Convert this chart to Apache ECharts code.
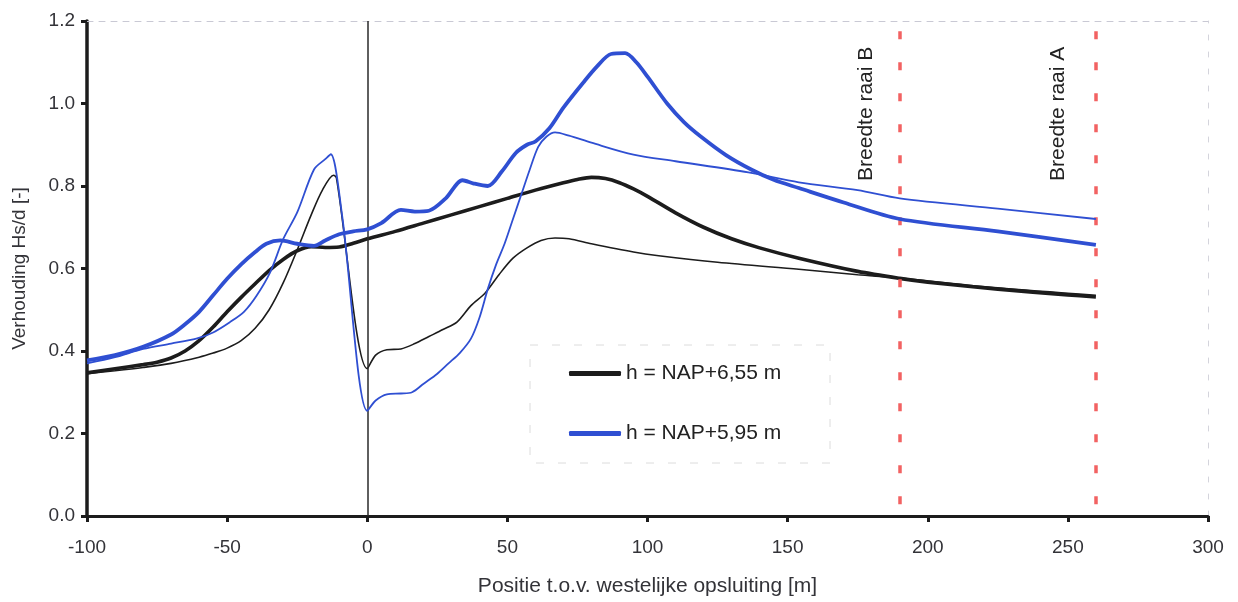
<!DOCTYPE html>
<html>
<head>
<meta charset="utf-8">
<script src="https://cdn.jsdelivr.net/npm/echarts@6/dist/echarts.min.js"></script>
<style>
html,body{margin:0;padding:0;background:#fff;}
#chart{width:1238px;height:602px;}
</style>
</head>
<body>
<div id="chart"></div>
<script>
// ---- data ----
var xTicks = [-100, -50, 0, 50, 100, 150, 200, 250, 300];
var yTicks = [0.0, 0.2, 0.4, 0.6, 0.8, 1.0, 1.2];

var nameHigh = 'h = NAP+6,55 m';
var nameLow = 'h = NAP+5,95 m';

// thick black
var highThickX = [-100,-90,-80,-75,-70,-65,-60,-55,-50,-45,-40,-35,-30,-25,-20,-15,-10,-5,0,10,20,30,40,50,60,70,75,80,85,90,95,100,110,120,130,140,154,175,190,200,225,250,260];
var highThickY = [0.347,0.357,0.367,0.373,0.383,0.40,0.425,0.458,0.495,0.53,0.563,0.595,0.622,0.643,0.653,0.651,0.652,0.661,0.672,0.69,0.71,0.73,0.75,0.77,0.79,0.808,0.816,0.821,0.818,0.808,0.793,0.775,0.735,0.70,0.672,0.65,0.625,0.593,0.576,0.567,0.55,0.536,0.531];

// thin black
var highThinX = [-100,-90,-80,-70,-60,-55,-50,-45,-40,-35,-30,-25,-20,-16,-12,-11,0,3,7,12,17,22,27,32,37,42,47,52,57,62,67,72,80,95,104,125,154,175,190,225,260];
var highThinY = [0.345,0.352,0.36,0.37,0.385,0.395,0.407,0.425,0.455,0.50,0.565,0.645,0.73,0.79,0.826,0.82,0.357,0.39,0.403,0.405,0.418,0.435,0.452,0.47,0.51,0.54,0.585,0.625,0.65,0.668,0.674,0.672,0.66,0.64,0.631,0.615,0.598,0.585,0.577,0.553,0.535];

// thick blue
var lowThickX = [-100,-90,-80,-70,-65,-60,-55,-50,-45,-40,-36,-31,-25,-19,-15,-10,-5,0,5,12,17,22,28,34,38,43,48,53,57,60,65,70,77,82,87,92,96,100,107,113,119,128,137,145,154,170,190,225,260];
var lowThickY = [0.377,0.39,0.41,0.44,0.465,0.495,0.535,0.575,0.61,0.64,0.66,0.668,0.66,0.655,0.668,0.683,0.69,0.695,0.71,0.742,0.738,0.74,0.77,0.814,0.806,0.80,0.835,0.88,0.90,0.908,0.94,0.99,1.05,1.09,1.12,1.122,1.10,1.065,1.0,0.955,0.92,0.875,0.84,0.815,0.795,0.76,0.72,0.69,0.657];

// thin blue
var lowThinX = [-100,-90,-80,-70,-61,-55,-49,-44,-39.5,-34.7,-30,-25,-19,-15,-13,-9,0,3,7,12,16,20,25,29,33,37,40,43,46,49,52,55,58,61,64,67,72,80,95,110,136,154,175,190,225,260];
var lowThinY = [0.37,0.385,0.405,0.418,0.43,0.445,0.47,0.495,0.534,0.59,0.671,0.736,0.84,0.865,0.877,0.73,0.255,0.28,0.295,0.297,0.30,0.32,0.345,0.37,0.395,0.43,0.48,0.55,0.61,0.66,0.72,0.78,0.84,0.895,0.92,0.93,0.922,0.905,0.876,0.86,0.833,0.809,0.79,0.77,0.745,0.72];

var raaiX = [190, 260];
var raaiLabels = ['Breedte raai B', 'Breedte raai A'];
var raaiLabelX = [178, 246.5];
var raaiLabelY = 0.975;
var yLineTop = 1.175;

function pairs(xs, ys) { return xs.map(function (x, i) { return [x, ys[i]]; }); }

var black = '#1c1c1c';
var blue = '#2f4fd2';
var red = '#f26262';
var txt = '#333338';
var font = 'Liberation Sans, Arial, sans-serif';

var chart = echarts.init(document.getElementById('chart'), null, {renderer: 'canvas'});

var option = {
  backgroundColor: '#fff',
  animation: false,
  grid: {left: 87, right: 30, top: 21, bottom: 84, containLabel: false},
  xAxis: [{
    type: 'value', min: xTicks[0], max: xTicks[xTicks.length - 1], interval: 50,
    name: 'Positie t.o.v. westelijke opsluiting [m]',
    nameLocation: 'middle', nameGap: 60,
    nameTextStyle: {fontFamily: font, fontSize: 21, color: txt},
    axisLine: {show: true, onZero: false, lineStyle: {color: black, width: 3}},
    axisTick: {show: true, inside: false, length: 6, lineStyle: {color: black, width: 3}},
    axisLabel: {fontFamily: font, fontSize: 19, color: txt, margin: 22},
    splitLine: {show: false}
  }, {
    type: 'value', position: 'top', min: -100, max: 300,
    axisLine: {show: true, onZero: false, lineStyle: {color: '#c9c9d4', width: 1, type: [6, 6]}},
    axisTick: {show: false}, axisLabel: {show: false}, splitLine: {show: false}
  }],
  yAxis: [{
    type: 'value', min: yTicks[0], max: yTicks[yTicks.length - 1], interval: 0.2,
    name: 'Verhouding Hs/d [-]',
    nameLocation: 'middle', nameGap: 58, nameRotate: 90,
    nameTextStyle: {fontFamily: font, fontSize: 19, color: txt},
    axisLine: {show: true, onZero: false, lineStyle: {color: black, width: 3.5}},
    axisTick: {show: true, inside: false, length: 6, lineStyle: {color: black, width: 3}},
    axisLabel: {fontFamily: font, fontSize: 19, color: txt, margin: 12,
      formatter: function (v) { return v.toFixed(1); }},
    splitLine: {show: false}
  }, {
    type: 'value', position: 'right', min: 0, max: 1.2,
    axisLine: {show: true, onZero: false, lineStyle: {color: '#d4d4dc', width: 1, type: [5, 12]}},
    axisTick: {show: false}, axisLabel: {show: false}, splitLine: {show: false}
  }],
  legend: {
    data: [nameHigh, nameLow],
    orient: 'vertical', left: 569, top: 363, padding: 0,
    itemWidth: 52, itemHeight: 5, itemGap: 39, icon: 'roundRect',
    selectedMode: false,
    textStyle: {fontFamily: font, fontSize: 21, color: '#222', lineHeight: 20}
  },
  graphic: [{
    type: 'rect', silent: true, z: 1,
    shape: {x: 530, y: 345, width: 300, height: 118},
    style: {fill: 'none', stroke: '#dcdcdc', lineWidth: 1, lineDash: [8, 14]}
  }],
  series: [
    {
      name: nameHigh, type: 'line', data: pairs(highThinX, highThinY),
      smooth: 0.3, showSymbol: false, symbol: 'none', z: 3,
      lineStyle: {color: black, width: 1.6}, itemStyle: {color: black}
    },
    {
      name: nameHigh, type: 'line', data: pairs(highThickX, highThickY),
      smooth: 0.3, showSymbol: false, symbol: 'none', z: 4,
      lineStyle: {color: black, width: 3.6}, itemStyle: {color: black},
      markLine: {
        silent: true, symbol: 'none', label: {show: false},
        lineStyle: {color: '#2a2a2a', width: 1.5, type: 'solid'},
        data: [[{coord: [0, 0]}, {coord: [0, 1.2]}]]
      }
    },
    {
      name: nameLow, type: 'line', data: pairs(lowThinX, lowThinY),
      smooth: 0.3, showSymbol: false, symbol: 'none', z: 5,
      lineStyle: {color: blue, width: 1.8}, itemStyle: {color: blue},
      markLine: {
        silent: true, symbol: 'none', label: {show: false},
        lineStyle: {color: red, width: 3.5, type: [8, 23]},
        data: raaiX.map(function (x) { return [{coord: [x, yLineTop]}, {coord: [x, 0]}]; })
      },
      markPoint: {
        silent: true, symbol: 'circle', symbolSize: 1,
        itemStyle: {color: 'rgba(0,0,0,0)'},
        label: {show: true, position: 'inside', rotate: 90, fontFamily: font, fontSize: 21, color: '#222'},
        data: raaiLabels.map(function (t, i) {
          return {coord: [raaiLabelX[i], raaiLabelY], value: t, label: {formatter: t}};
        })
      }
    },
    {
      name: nameLow, type: 'line', data: pairs(lowThickX, lowThickY),
      smooth: 0.3, showSymbol: false, symbol: 'none', z: 6,
      lineStyle: {color: blue, width: 3.8}, itemStyle: {color: blue}
    }
  ]
};
chart.setOption(option);
</script>
</body>
</html>
